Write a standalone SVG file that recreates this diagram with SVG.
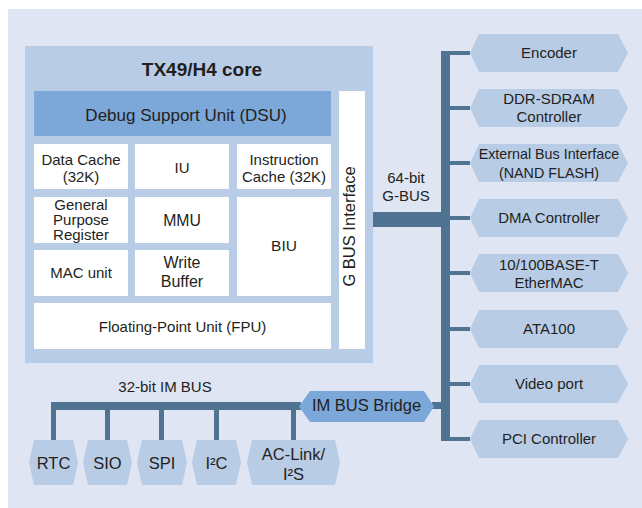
<svg xmlns="http://www.w3.org/2000/svg" width="642" height="508" viewBox="0 0 642 508">
<defs>
<style>
text{font-family:"Liberation Sans",Arial,sans-serif;fill:#231f20;font-size:15px;text-anchor:middle}
.panel{fill:#dfe5f3}
.core{fill:#b8cce6}
.dsu{fill:#7ca7d9}
.unit{fill:#ffffff}
.hex{fill:#b8cce6}
.bridge{fill:#7ca7d9}
.bus{fill:#4f7391}
.title{font-weight:bold;font-size:19px}
.sm{font-size:16.5px}
.gpr{font-size:15px}
</style>
</defs>
<rect class="panel" x="8" y="9" width="634" height="499"/>

<g id="connectors">
<rect class="bus" x="441" y="51" width="9" height="390"/>
<rect class="bus" x="373" y="212" width="68" height="15"/>
<rect class="bus" x="441" y="51" width="29" height="4"/>
<rect class="bus" x="441" y="106" width="29" height="4"/>
<rect class="bus" x="441" y="161" width="29" height="4"/>
<rect class="bus" x="441" y="216" width="29" height="4"/>
<rect class="bus" x="441" y="271" width="29" height="4"/>
<rect class="bus" x="441" y="327" width="29" height="4"/>
<rect class="bus" x="441" y="382" width="29" height="4"/>
<rect class="bus" x="441" y="437" width="29" height="4"/>
<rect class="bus" x="432" y="402" width="10" height="7"/>
<rect class="bus" x="51" y="402" width="250" height="8"/>
<rect class="bus" x="51" y="402" width="5" height="38"/>
<rect class="bus" x="105" y="402" width="5" height="38"/>
<rect class="bus" x="159" y="402" width="5" height="38"/>
<rect class="bus" x="214" y="402" width="5" height="38"/>
<rect class="bus" x="291" y="402" width="5" height="38"/>
<text x="406" y="183">64-bit</text>
<text x="406" y="201">G-BUS</text>
<text x="165" y="392">32-bit IM BUS</text>
</g>

<g id="core">
<rect class="core" x="25" y="46" width="348" height="317"/>
<text class="title" x="202" y="76">TX49/H4 core</text>
</g>
<g id="dsu">
<rect class="dsu" x="34" y="91" width="297" height="45"/>
<text x="186" y="121" style="font-size:17px">Debug Support Unit (DSU)</text>
</g>
<g id="gbus-if">
<rect class="unit" x="339" y="91" width="26" height="258"/>
<text transform="translate(355 226.5) rotate(-90)" x="0" y="0" style="font-size:16.5px">G BUS Interface</text>
</g>
<g id="dcache">
<rect class="unit" x="34" y="144" width="94" height="45"/>
<text x="81" y="165">Data Cache</text>
<text x="81" y="182">(32K)</text>
</g>
<g id="iu">
<rect class="unit" x="135" y="144" width="94" height="45"/>
<text x="182" y="173">IU</text>
</g>
<g id="icache">
<rect class="unit" x="237" y="144" width="94" height="45"/>
<text x="284" y="165">Instruction</text>
<text x="284" y="182">Cache (32K)</text>
</g>
<g id="gpr">
<rect class="unit" x="34" y="197" width="94" height="46"/>
<text class="gpr" x="81" y="209.5">General</text>
<text class="gpr" x="81" y="224.5">Purpose</text>
<text class="gpr" x="81" y="239.5">Register</text>
</g>
<g id="mmu">
<rect class="unit" x="135" y="197" width="94" height="46"/>
<text x="182" y="226" style="font-size:15.8px">MMU</text>
</g>
<g id="biu">
<rect class="unit" x="237" y="197" width="94" height="99"/>
<text x="284" y="251" style="font-size:15.5px">BIU</text>
</g>
<g id="mac">
<rect class="unit" x="34" y="250" width="94" height="46"/>
<text x="81" y="278">MAC unit</text>
</g>
<g id="wbuf">
<rect class="unit" x="135" y="250" width="94" height="46"/>
<text x="182" y="268" style="font-size:16px">Write</text>
<text x="182" y="287" style="font-size:16px">Buffer</text>
</g>
<g id="fpu">
<rect class="unit" x="34" y="303" width="297" height="46"/>
<text x="182.5" y="332">Floating-Point Unit (FPU)</text>
</g>

<g id="encoder">
<polygon class="hex" points="470,53 479,34 618,34 628,53 618,72 479,72"/>
<text x="549" y="58">Encoder</text>
</g>
<g id="ddr">
<polygon class="hex" points="470,108 479,89 618,89 628,108 618,127 479,127"/>
<text x="549" y="104">DDR-SDRAM</text>
<text x="549" y="121.5">Controller</text>
</g>
<g id="ebi">
<polygon class="hex" points="470,163 479,144 618,144 628,163 618,182 479,182"/>
<text x="549" y="159" style="font-size:14.3px">External Bus Interface</text>
<text x="549" y="177.5" style="font-size:14.3px">(NAND FLASH)</text>
</g>
<g id="dma">
<polygon class="hex" points="470,218 479,199 618,199 628,218 618,237 479,237"/>
<text x="549" y="223">DMA Controller</text>
</g>
<g id="ether">
<polygon class="hex" points="470,273 479,254 618,254 628,273 618,292 479,292"/>
<text x="549" y="270">10/100BASE-T</text>
<text x="549" y="287.5">EtherMAC</text>
</g>
<g id="ata">
<polygon class="hex" points="470,329 479,310 618,310 628,329 618,348 479,348"/>
<text x="549" y="334">ATA100</text>
</g>
<g id="video">
<polygon class="hex" points="470,384 479,365 618,365 628,384 618,403 479,403"/>
<text x="549" y="389">Video port</text>
</g>
<g id="pci">
<polygon class="hex" points="470,439 479,420 618,420 628,439 618,458 479,458"/>
<text x="549" y="444">PCI Controller</text>
</g>

<g id="imbridge">
<polygon class="bridge" points="299,406.5 310,391 424,391 434,406.5 424,422 310,422"/>
<text class="sm" x="366.5" y="411">IM BUS Bridge</text>
</g>

<g id="rtc">
<polygon class="hex" points="29,462.5 34,440 73,440 78,462.5 73,485 34,485"/>
<text class="sm" x="53.5" y="469">RTC</text>
</g>
<g id="sio">
<polygon class="hex" points="83,462.5 88,440 127,440 132,462.5 127,485 88,485"/>
<text class="sm" x="107.5" y="469">SIO</text>
</g>
<g id="spi">
<polygon class="hex" points="137,462.5 142,440 182,440 187,462.5 182,485 142,485"/>
<text class="sm" x="162" y="469">SPI</text>
</g>
<g id="i2c">
<polygon class="hex" points="192,462.5 197,440 236,440 241,462.5 236,485 197,485"/>
<text class="sm" x="216.5" y="469">I²C</text>
</g>
<g id="aclink">
<polygon class="hex" points="247,462.5 252,440 335,440 340,462.5 335,485 252,485"/>
<text class="sm" x="293.5" y="460">AC-Link/</text>
<text class="sm" x="293.5" y="480">I²S</text>
</g>
</svg>
